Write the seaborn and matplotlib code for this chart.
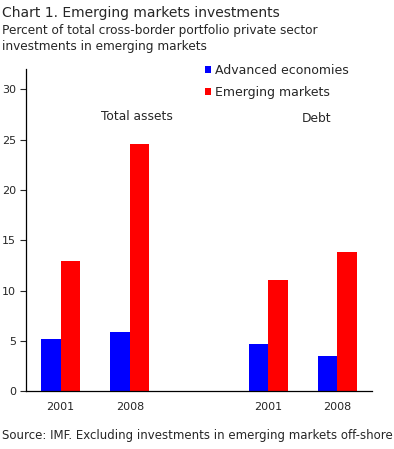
import matplotlib
matplotlib.use("Agg")
import matplotlib.pyplot as plt
import seaborn as sns
import pandas as pd

# ---- data ----
slots = ["ta_2001", "ta_2008", "gap", "debt_2001", "debt_2008"]
slot_labels = ["2001", "2008", "", "2001", "2008"]
bar_slots = ["ta_2001", "ta_2008", "debt_2001", "debt_2008"]
advanced = [5.2, 5.9, 4.7, 3.5]
emerging = [12.9, 24.6, 11.1, 13.8]
series = ["Advanced economies", "Emerging markets"]
colors = ["#0000ff", "#ff0000"]

df = pd.DataFrame({
    "slot": bar_slots * 2,
    "value": advanced + emerging,
    "series": [series[0]] * 4 + [series[1]] * 4,
})

sns.set_style("white")
plt.rcParams["font.family"] = ["DejaVu Sans"]

fig = plt.figure(figsize=(3.94, 4.49), dpi=100)
ax = fig.add_axes([0.066, 0.1285, 0.878, 0.7178])

sns.barplot(data=df, x="slot", y="value", hue="series", order=slots,
            hue_order=series, palette=colors, width=0.565, saturation=1,
            linewidth=0, ax=ax)

ax.set_xlim(-0.5, 4.5)
ax.set_ylim(0, 32)
ax.set_yticks(range(0, 31, 5))
ax.set_xticks(range(len(slots)))
ax.set_xticklabels(slot_labels)
ax.set_xlabel("")
ax.set_ylabel("")
ax.tick_params(axis="y", direction="out", length=4, width=0.8, labelsize=8, pad=3, left=True)
ax.tick_params(axis="x", length=0, labelsize=8, pad=8)
for s in ["top", "right"]:
    ax.spines[s].set_visible(False)
for s in ["left", "bottom"]:
    ax.spines[s].set_color("black")
    ax.spines[s].set_linewidth(0.9)

ax.text(1.1, 27.3, "Total assets", ha="center", va="center", fontsize=8.8)
ax.text(3.7, 27.1, "Debt", ha="center", va="center", fontsize=8.8)

ax.legend(loc="upper left", bbox_to_anchor=(0.503, 1.03), frameon=False,
          fontsize=9, handlelength=0.5, handleheight=0.5,
          handletextpad=0.3, labelspacing=0.72, borderaxespad=0)

fig.text(0.005, 0.972, "Chart 1. Emerging markets investments", fontsize=10, va="center")
fig.text(0.005, 0.932, "Percent of total cross-border portfolio private sector",
         fontsize=8.7, va="center")
fig.text(0.005, 0.897, "investments in emerging markets", fontsize=8.7, va="center")
fig.text(0.005, 0.03, "Source: IMF. Excluding investments in emerging markets off-shore",
         fontsize=8.5, va="center")

fig.savefig("out.png", dpi=100)
